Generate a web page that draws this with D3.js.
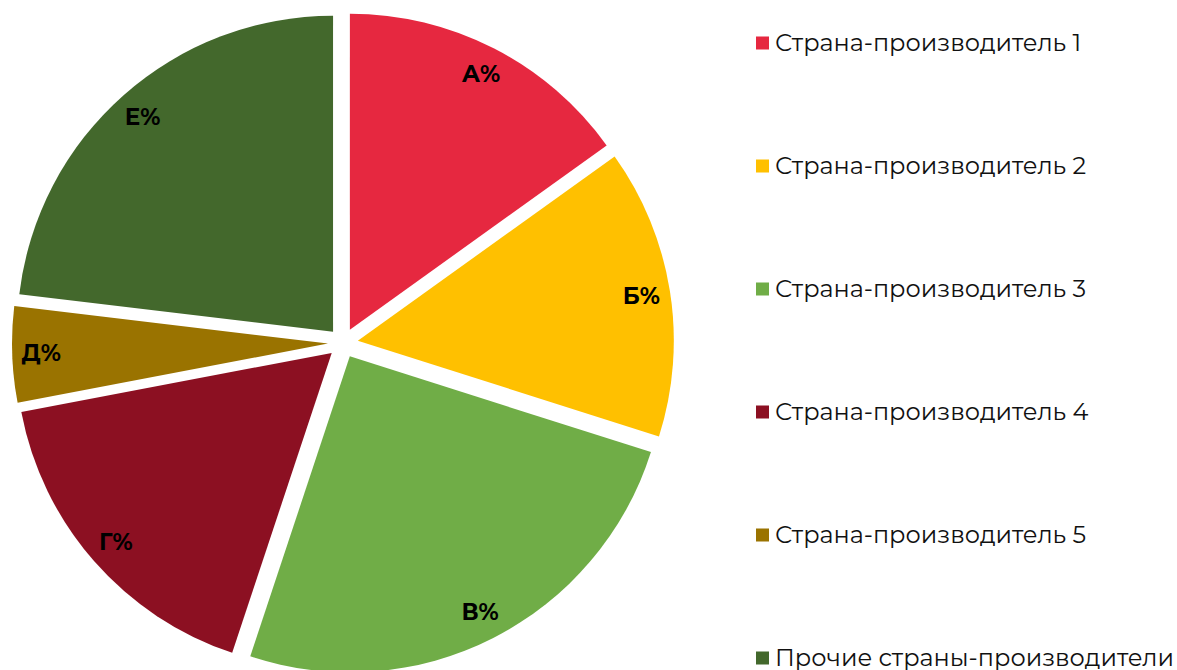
<!DOCTYPE html>
<html>
<head>
<meta charset="utf-8">
<script src="https://cdn.jsdelivr.net/npm/d3@7"></script>
<style>
  body { margin: 0; background: #fff; }
  svg { display: block; font-family: "Montserrat", "DejaVu Sans", sans-serif; }
</style>
</head>
<body>
<svg id="chart"></svg>
<script>
// Shares per producing country (percent)
const categories = ["Страна-производитель 1", "Страна-производитель 2", "Страна-производитель 3",
                    "Страна-производитель 4", "Страна-производитель 5", "Прочие страны-производители"];
const shares = [15.1, 14.8, 25.2, 16.9, 4.9, 23.1];
const slice_labels = ["А%", "Б%", "В%", "Г%", "Д%", "Е%"];
const colors = ["#E62840", "#FFC000", "#70AD47", "#8C1022", "#9A7300", "#43682C"];

const width = 1177, height = 670;
const cx = 343, cy = 343, radius = 316, explode = 15, label_r = 287;

const svg = d3.select("#chart").attr("width", width).attr("height", height);

// Pie layout, clockwise from 12 o'clock, no sorting
const pie = d3.pie().sort(null).value(d => d.value);
const arcs = pie(shares.map((v, i) => ({ value: v, i: i })));

const arc = d3.arc().innerRadius(0).outerRadius(radius);
const label_arc = d3.arc().innerRadius(label_r).outerRadius(label_r);

// Each slice is pushed outwards along its bisector
const slices = svg.selectAll(".slice")
    .data(arcs)
    .enter()
    .append("g")
    .attr("class", "slice")
    .attr("transform", d => {
        const a = (d.startAngle + d.endAngle) / 2;
        return `translate(${cx + explode * Math.sin(a)}, ${cy - explode * Math.cos(a)})`;
    });

slices.append("path")
    .attr("d", arc)
    .attr("fill", d => colors[d.data.i]);

slices.append("text")
    .attr("transform", d => `translate(${label_arc.centroid(d)})`)
    .attr("text-anchor", "middle")
    .attr("dy", "0.35em")
    .style("font-size", "23px")
    .style("font-weight", "700")
    .attr("fill", "#000")
    .text(d => slice_labels[d.data.i]);

// Legend on the right
const legend_y = d3.scalePoint()
    .domain(categories)
    .range([43, 658]);

const legend = svg.selectAll(".legend")
    .data(categories)
    .enter()
    .append("g")
    .attr("class", "legend")
    .attr("transform", d => `translate(756, ${legend_y(d)})`);

legend.append("rect")
    .attr("x", 0)
    .attr("y", -6.5)
    .attr("width", 13)
    .attr("height", 13)
    .attr("fill", (d, i) => colors[i]);

legend.append("text")
    .attr("x", 19)
    .attr("dy", "0.35em")
    .style("font-size", "24px")
    .attr("fill", "#111")
    .text(d => d);
</script>
</body>
</html>
